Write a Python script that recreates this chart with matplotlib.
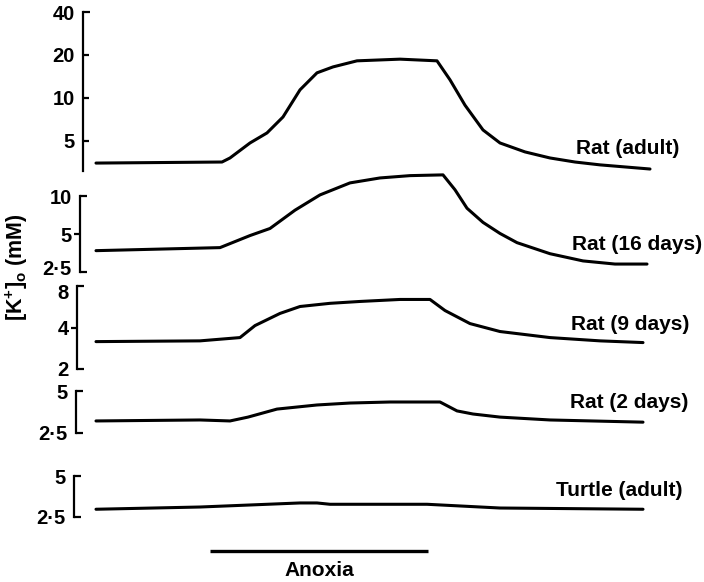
import numpy as np
import matplotlib
matplotlib.use("Agg")
import matplotlib.pyplot as plt
import matplotlib.transforms as mtransforms
from matplotlib.ticker import FixedLocator, FixedFormatter, NullLocator

plt.rcParams['font.family'] = ['Liberation Sans', 'DejaVu Sans']
plt.rcParams['font.weight'] = 'bold'
plt.rcParams['mathtext.fontset'] = 'custom'
plt.rcParams['mathtext.rm'] = 'Liberation Sans:bold'
plt.rcParams['mathtext.it'] = 'Liberation Sans:bold'

# time (min, arbitrary origin) and extracellular K+ (mM)
t_adult = [0, 12.6, 13.4, 15.4, 17.1, 18.7, 20.4, 22.1, 23.7, 26.1, 30.4, 34.1,
           35.4, 36.9, 38.7, 40.4, 42.9, 45.4, 47.9, 50.4, 55.4]
k_adult = [3.50, 3.56, 3.80, 4.84, 5.69, 7.36, 11.4, 15.0, 16.5, 18.2, 18.7, 18.2,
           13.4, 8.9, 5.97, 4.84, 4.19, 3.80, 3.56, 3.40, 3.18]

t_16d = [0, 12.4, 15.4, 17.4, 19.9, 22.4, 25.4, 28.4, 31.4, 34.7,
         35.9, 37.1, 38.7, 40.4, 42.1, 45.4, 48.7, 51.9, 55.1]
k_16d = [3.69, 3.90, 4.86, 5.53, 7.72, 10.2, 12.7, 13.9, 14.5, 14.7,
         11.2, 8.0, 6.18, 5.05, 4.27, 3.49, 3.06, 2.89, 2.89]

t_9d = [0, 10.4, 14.4, 15.9, 18.4, 20.4, 23.4, 26.4, 30.4, 33.4,
        34.9, 37.4, 40.4, 45.4, 50.4, 54.7]
k_9d = [3.16, 3.20, 3.38, 4.13, 5.06, 5.68, 5.99, 6.18, 6.39, 6.39,
        5.31, 4.27, 3.74, 3.38, 3.20, 3.11]

t_2d = [0, 10.4, 13.4, 15.2, 18.1, 22.1, 25.4, 29.4, 34.4,
        36.1, 37.7, 40.4, 45.4, 54.7]
k_2d = [3.05, 3.10, 3.05, 3.25, 3.71, 3.97, 4.10, 4.17, 4.17,
        3.60, 3.42, 3.25, 3.10, 2.99]

t_turtle = [0, 10.4, 20.4, 22.1, 23.4, 33.1, 40.4, 54.7]
k_turtle = [2.85, 2.96, 3.17, 3.17, 3.10, 3.10, 2.91, 2.85]

anoxia = [11.4, 33.2]

W, H = 704, 582
fig = plt.figure(figsize=(W / 100, H / 100), dpi=100)

# (t, k, name, spine x px, top px, bottom px, ylim, end ticks, mid ticks, mid dir, label pos px)
panels = [
    (t_adult, k_adult, 'Rat (adult)', 83, 12, 171, (3.08, 40),
     [40], [5, 10, 20], 'in', (679, 148)),
    (t_16d, k_16d, 'Rat (16 days)', 80, 196, 272, (2.5, 10),
     [2.5, 10], [5], 'out', (702, 244)),
    (t_9d, k_9d, 'Rat (9 days)', 77, 286, 369, (2, 8),
     [2, 8], [4], 'out', (689, 324)),
    (t_2d, k_2d, 'Rat (2 days)', 76, 391, 433, (2.5, 5),
     [2.5, 5], [], 'out', (688, 403)),
    (t_turtle, k_turtle, 'Turtle (adult)', 74, 476, 517, (2.5, 5),
     [2.5, 5], [], 'out', (683, 490)),
]


def fmt(v):
    return ('%g' % v).replace('.', '\u00b7')


x0_px, px_per_min = 96, 10.0
axes = []

for t, k, name, sx, top, bot, ylim, ends, mids, middir, lpos in panels:
    ax = fig.add_axes([sx / W, 1 - bot / H, (W - sx) / W, (bot - top) / H])
    ax.set_yscale('log')
    ax.plot(t, k, color='black', lw=2.2, clip_on=False, solid_capstyle='round')
    ax.set_xlim((sx - x0_px) / px_per_min, (W - x0_px) / px_per_min)
    ax.set_ylim(*ylim)
    for s in ['top', 'right', 'bottom']:
        ax.spines[s].set_visible(False)
    ax.spines['left'].set_linewidth(1.6)
    ax.xaxis.set_visible(False)
    ax.patch.set_visible(False)
    ax.yaxis.set_major_locator(FixedLocator(ends))
    ax.yaxis.set_major_formatter(FixedFormatter([fmt(v) for v in ends]))
    ax.yaxis.set_minor_locator(FixedLocator(mids) if mids else NullLocator())
    ax.yaxis.set_minor_formatter(FixedFormatter([fmt(v) for v in mids]))
    ax.tick_params(axis='y', which='major', direction='in', length=5, width=1.6,
                   pad=6, labelsize=14.5)
    ax.tick_params(axis='y', which='minor', direction=middir, length=4, width=1.6,
                   pad=6 if middir == 'in' else 2, labelsize=14.5)
    fig.text(lpos[0] / W, 1 - lpos[1] / H, name, ha='right', va='center', fontsize=15)
    axes.append(ax)

# anoxia bar
axb = fig.add_axes([74 / W, 1 - 560 / H, (W - 74) / W, 20 / H])
axb.set_xlim((74 - x0_px) / px_per_min, (W - x0_px) / px_per_min)
axb.set_ylim(0, 1)
axb.plot(anoxia, [0.45, 0.45], color='black', lw=2.4, solid_capstyle='butt')
axb.axis('off')
fig.text((x0_px + px_per_min * np.mean(anoxia)) / W, 1 - 571 / H, 'Anoxia',
         ha='center', va='center', fontsize=15)

fig.text(17 / W, 1 - 267 / H, r'[K$^{+}$]$_{\mathrm{o}}$ (mM)', rotation=90,
         ha='center', va='center', fontsize=15.5)

# nudge the crowded "2.5" / "8" labels apart as in the original
fig.canvas.draw()
for ax, dy in [(axes[1], 3), (axes[2], -4)]:
    for tick in ax.yaxis.get_major_ticks():
        if tick.get_loc() == min(ax.get_ylim()) and dy > 0 or \
           tick.get_loc() == max(ax.get_ylim()) and dy < 0:
            lab = tick.label1
            lab.set_transform(lab.get_transform() +
                              mtransforms.ScaledTranslation(0, dy / 72, fig.dpi_scale_trans))

fig.savefig('out.png', dpi=100)
